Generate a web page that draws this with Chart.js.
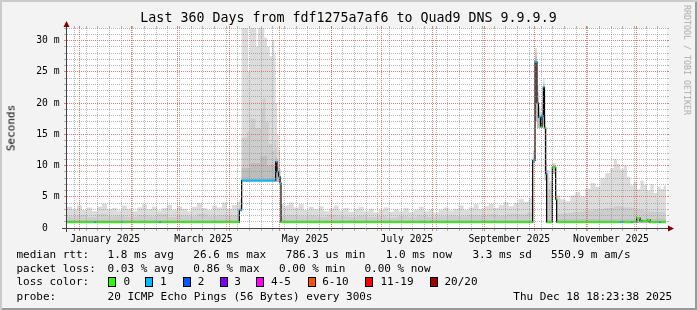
<!DOCTYPE html>
<html lang="en">
<head>
<meta charset="UTF-8">
<title>Last 360 Days from fdf1275a7af6 to Quad9 DNS 9.9.9.9</title>
<script src="https://cdn.jsdelivr.net/npm/chart.js@4"></script>
<style>
* { margin: 0; padding: 0; box-sizing: border-box; }
body { background: #f3f3f3; width: 697px; height: 310px; overflow: hidden; }
#wrap { position: relative; width: 697px; height: 310px; background: #f3f3f3; font-family: 'DejaVu Sans Mono', monospace; color: #000; }
#wrap canvas { position: absolute; left: 0; top: 0; }
.t { position: absolute; white-space: pre; line-height: 1; }
.leg { font-size: 11px; }
.box { position: absolute; width: 8px; height: 10px; border: 1px solid #000; }
#shade { position: absolute; left: 0; top: 0; width: 697px; height: 310px; box-shadow: inset 2px 2px 0 #cbcbcb, inset -2px -2px 0 #999; pointer-events: none; }
</style>
</head>
<body>
<div id="wrap">
  <canvas id="c" width="697" height="310"></canvas>
  <div class="t" style="left:0;width:697px;top:11px;text-align:center;font-size:13.3px">Last 360 Days from fdf1275a7af6 to Quad9 DNS 9.9.9.9</div>
  <div class="t" style="left:10.5px;top:128.3px;font-size:11px;transform:translate(-50%,-50%) rotate(-90deg)">Seconds</div>
  <div class="t" style="left:687.3px;top:60px;font-size:8.3px;color:#aaa;transform:translate(-50%,-50%) rotate(90deg)">RRDTOOL / TOBI OETIKER</div>

  <div class="t leg" style="left:16.4px;top:248.8px">median rtt:</div>
  <div class="t leg" style="left:107.6px;top:248.8px">1.8 ms avg</div>
  <div class="t leg" style="left:193.3px;top:248.8px">26.6 ms max</div>
  <div class="t leg" style="left:285.8px;top:248.8px">786.3 us min</div>
  <div class="t leg" style="left:385.8px;top:248.8px">1.0 ms now</div>
  <div class="t leg" style="left:472.4px;top:248.8px">3.3 ms sd</div>
  <div class="t leg" style="left:551.1px;top:248.8px">550.9 m am/s</div>

  <div class="t leg" style="left:16.4px;top:262.8px">packet loss:</div>
  <div class="t leg" style="left:107.6px;top:262.8px">0.03 % avg</div>
  <div class="t leg" style="left:193.3px;top:262.8px">0.86 % max</div>
  <div class="t leg" style="left:279.1px;top:262.8px">0.00 % min</div>
  <div class="t leg" style="left:364.4px;top:262.8px">0.00 % now</div>

  <div class="t leg" style="left:16.4px;top:276.2px">loss color:</div>
  <div id="lossLegend"></div>

  <div class="t leg" style="left:16.4px;top:290.5px">probe:</div>
  <div class="t leg" style="left:107.6px;top:290.5px">20 ICMP Echo Pings (56 Bytes) every 300s</div>
  <div class="t leg" style="left:513.3px;top:290.5px">Thu Dec 18 18:23:38 2025</div>
  <div id="shade"></div>
</div>
<script>
// x = days since the start of the 360 day window, y = milliseconds

// loss colour bands
const lossLabels = ['0', '1', '2', '3', '4-5', '6-10', '11-19', '20/20'];
const lossColors = ['#26ff00', '#00b8ff', '#0059ff', '#7e00ff', '#ff00ff', '#ff5500', '#ff0000', '#a10000'];

// x axis: month starts (major grid), first weekly line, label centres
const monthGridDays = [7.4, 38.4, 66.4, 97.4, 127.4, 158.4, 188.4, 219.4, 250.4, 280.4, 311.4, 341.4];
const firstWeekDay = 4.4;
const labelDays = [22.9, 81.9, 142.9, 203.9, 265.4, 326.4];
const labelText = ['January 2025', 'March 2025', 'May 2025', 'July 2025', 'September 2025', 'November 2025'];

// y axis labels
const yLabelVals = [0, 5, 10, 15, 20, 25, 30];
const yLabelText = ['0  ', '5 m', '10 m', '15 m', '20 m', '25 m', '30 m'];

// median rtt: start day of each step, value (ms), loss band index
const medDay  = [0, 16.4, 17.2, 32.4, 33.2, 55.4, 56.2, 103.4, 104.8, 125.2, 126.0, 126.9, 127.8, 128.4,
                 279.4, 280.8, 282.0, 282.9, 284.1, 285.0, 285.8, 286.5, 287.2, 287.8, 291.2, 293.2, 293.8,
                 331.8, 333.4, 338.6, 339.2, 341.8, 343.8, 344.6, 345.2, 348.6, 349.8, 355.4, 356.2];
const medVal  = [0.95, 0.95, 0.95, 0.95, 0.95, 0.95, 0.95, 2.9, 7.6, 10.6, 9.0, 8.2, 7.2, 0.95,
                 10.8, 26.6, 20.0, 17.7, 16.2, 17.9, 22.5, 16.0, 8.7, 0.95, 9.7, 4.6, 0.95,
                 0.95, 0.95, 0.95, 0.95, 1.6, 1.1, 1.1, 1.1, 1.3, 0.95, 0.95, 0.95];
const medLoss = [0, 1, 0, 1, 0, 1, 0, 1, 1, 1, 1, 1, 1, 0,
                 1, 1, 1, 1, 0, 1, 1, 0, 1, 0, 0, 0, 0,
                 1, 0, 1, 0, 0, 0, 1, 0, 0, 0, 1, 0];
const medEnd = 359.4;

// smoke: highest pings [start day, ms]
const smokeHi = [
  [0,3.4],[3,3.0],[6,3.6],[9,2.9],[12,3.3],[15,2.7],[18,3.4],[21,3.9],[24,3.0],[27,3.2],[30,2.8],[33,3.6],
  [36,3.1],[39,2.7],[42,3.3],[45,3.8],[48,3.0],[51,3.4],[54,2.8],[57,3.2],[60,3.7],[63,2.9],[66,3.5],[69,3.1],
  [72,2.7],[75,3.4],[78,4.0],[81,3.2],[84,2.9],[87,3.6],[90,3.3],[93,4.1],[96,3.1],[99,3.7],[102,4.2],
  [103.4,4.6],[104.8,33],[108.8,25],[109.8,33],[113.6,29],[114.6,33],[118.4,30.5],[120,29],[121.6,27.5],
  [123,30],[124.4,28],[125.2,20],[126,15],[127,12.5],[127.8,9.5],[128.4,3.9],
  [130,3.6],[133,4.1],[136,3.3],[139,3.8],[142,2.9],[145,3.4],[148,3.0],[151,3.5],[154,2.7],[157,3.1],
  [160,3.6],[163,2.8],[166,3.2],[169,2.6],[172,3.0],[175,3.4],[178,2.7],[181,3.1],[184,2.5],[187,2.9],
  [190,3.3],[193,2.6],[196,3.0],[199,2.7],[202,3.2],[205,2.6],[208,2.9],[211,3.4],[214,2.7],[217,3.0],
  [220,2.5],[223,2.9],[226,3.3],[229,2.8],[232,3.1],[235,3.6],[238,2.9],[241,3.3],[244,3.8],[247,3.0],
  [250,3.5],[253,3.9],[256,3.2],[259,3.7],[262,4.2],[265,3.5],[268,4.0],[271,4.6],[274,4.2],[277,4.9],
  [279.4,12.5],[280.8,28.8],[282,23],[283,19.5],[284.1,18.5],[285,20],[285.8,24],[286.5,18],[287.2,10.5],
  [288,9.3],[289.5,7.5],[291.2,10.4],[293.2,6.0],[293.8,5.2],
  [296,4.6],[299,4.3],[302,5.2],[305,5.8],[308,5.0],[311,6.3],[314,7.2],[317,6.6],[320,8.0],[323,8.8],
  [326,9.6],[328,11.0],[330,10.2],[332,9.4],[334,10.0],[336,8.2],[338,6.8],[340,7.4],[342,6.2],[344,7.6],
  [346,6.9],[348,6.0],[350,7.0],[352,5.6],[354,6.6],[356,6.2],[358,6.8],[359.4,0],[360,0]
];
// smoke: middle band
const smokeMid = [
  [0,1.9],[6,2.1],[12,1.8],[18,2.2],[24,1.9],[30,2.0],[36,1.8],[42,2.1],[48,1.9],[54,2.2],[60,1.8],
  [66,2.0],[72,1.9],[78,2.3],[84,1.9],[90,2.1],[96,2.0],
  [103.4,3.6],[104.8,14.5],[108,15.5],[110,17.5],[113,16],[116.4,19],[117.6,20.8],[119,17],[121,13.5],
  [123,12.5],[124.4,14],[125.2,12.8],[126,10.8],[127,9.5],[127.8,8.3],[128.4,2.0],
  [132,2.1],[138,1.9],[144,2.0],[150,1.8],[156,2.1],[162,1.9],[168,1.8],[174,2.0],[180,1.8],[186,1.9],
  [192,1.7],[198,1.9],[204,1.8],[210,2.0],[216,1.8],[222,1.9],[228,2.0],[234,1.9],[240,2.1],[246,2.0],
  [252,2.2],[258,2.0],[264,2.3],[270,2.2],[276,2.5],
  [279.4,11.4],[280.8,28.1],[282,21.6],[283,18.6],[284.1,17.1],[285,19],[285.8,23.3],[286.5,17],
  [287.2,9.4],[288,6.2],[291.2,10.1],[293.2,5.0],[293.8,2.3],
  [298,2.4],[304,2.6],[310,2.8],[316,3.0],[322,3.2],[328,3.5],[334,3.3],[340,2.9],[346,2.7],[352,2.6],
  [358,2.5],[359.4,0],[360,0]
];
// smoke: dense band next to the median
const smokeLo = [
  [0,1.3],[103.4,3.2],[104.8,9.6],[110,10.4],[116,11.5],[120,10.0],[125.2,11.3],[126,9.7],[127,8.8],
  [127.8,7.8],[128.4,1.3],[279.4,11.1],[280.8,27.5],[282,20.8],[283,18.2],[284.1,16.7],[285,18.5],
  [285.8,22.9],[286.5,16.5],[287.2,9.1],[288,1.3],[291.2,9.9],[293.2,4.8],[293.8,1.4],[359.4,0],[360,0]
];
// lowest pings (nothing drawn below)
const smokeMin = [
  [0,0.78],[103.4,2.6],[104.8,7.35],[128.4,0.78],[279.4,10.4],[280.8,17],[282,16],[285.8,16.5],
  [286.5,7.6],[287.8,0.78],[291.2,8.6],[293.2,3.9],[293.8,0.78],[359.4,0],[360,0]
];

const GRID = 'rgba(143,143,143,0.65)';
const MGRID = 'rgba(222,80,80,0.75)';
const NONE = 'rgba(0,0,0,0)';

// loss legend
const lossLegendX = [108, 144.9, 182.7, 219.6, 256.4, 308, 365.3, 430.2];
const lossLabelX = [123.6, 160, 197.8, 234.2, 271.1, 322.2, 380.4, 444.4];
const lg = document.getElementById('lossLegend');
lossLabels.forEach((lab, i) => {
  const b = document.createElement('div');
  b.className = 'box';
  b.style.left = lossLegendX[i] + 'px';
  b.style.top = '276.7px';
  b.style.background = lossColors[i];
  lg.appendChild(b);
  const t = document.createElement('div');
  t.className = 't leg';
  t.style.left = lossLabelX[i] + 'px';
  t.style.top = '276.2px';
  t.textContent = lab;
  lg.appendChild(t);
});

// tick objects: weekly (minor), monthly (major), label positions
const weekGridDays = [];
for (let d = firstWeekDay; d < 360; d += 7) weekGridDays.push(+d.toFixed(1));
const gridTicks = [
  ...weekGridDays.map(v => ({ value: v, kind: 'minor' })),
  ...monthGridDays.map(v => ({ value: v, kind: 'major' }))
].sort((a, b) => a.value - b.value);
const allXTicks = [
  ...gridTicks,
  ...labelDays.map((v, i) => ({ value: v, kind: 'label', lab: labelText[i] }))
].sort((a, b) => a.value - b.value);
const yTicks = [];
for (let v = 0; v <= 32; v++) yTicks.push({ value: v, kind: v % 5 === 0 ? 'major' : 'minor' });

function gridColor(ctx) {
  const t = ctx.tick;
  if (!t || t.kind === 'label') return NONE;
  return t.kind === 'major' ? MGRID : GRID;
}

const toPts = arr => arr.map(([x, y]) => ({ x, y }));
function smokeSet(arr, color, order) {
  return { data: toPts(arr), stepped: 'before', fill: 'origin', backgroundColor: color,
           borderColor: NONE, borderWidth: 0, pointRadius: 0, order };
}

const medPts = medDay.map((d, i) => ({ x: d, y: medVal[i] }));
medPts.push({ x: medEnd, y: medVal[medVal.length - 1] });
const lossPts = [];
medDay.forEach((d, i) => {
  const next = i + 1 < medDay.length ? medDay[i + 1] : medEnd;
  lossPts.push({ x: d, y: medVal[i] }, { x: next, y: medVal[i] }, { x: next, y: null });
});

const plotBack = {
  id: 'plotBack',
  beforeDraw(chart) {
    const { ctx, chartArea: a } = chart;
    ctx.save();
    ctx.fillStyle = '#ffffff';
    ctx.fillRect(a.left, a.top, a.right - a.left, a.bottom - a.top);
    ctx.restore();
  },
  // horizontal dotted grid over the smoke, one dot every other pixel, at the y scale's ticks
  afterDatasetsDraw(chart) {
    const { ctx, chartArea: a } = chart;
    const ys = chart.scales.y;
    ctx.save();
    ys.ticks.forEach(t => {
      if (t.value === 0) return;
      const py = Math.floor(ys.getPixelForValue(t.value));
      ctx.fillStyle = t.kind === 'major' ? MGRID : GRID;
      for (let px = Math.ceil(a.left); px < a.right; px += 2) ctx.fillRect(px, py, 1, 1);
    });
    ctx.restore();
  },
  afterDraw(chart) {
    const { ctx, chartArea: a } = chart;
    ctx.save();
    ctx.strokeStyle = '#404040';
    ctx.lineWidth = 1;
    ctx.beginPath();
    ctx.moveTo(a.left - 5, a.bottom + 0.5);
    ctx.lineTo(a.right + 2, a.bottom + 0.5);
    ctx.moveTo(a.left - 0.5, a.bottom + 4);
    ctx.lineTo(a.left - 0.5, a.top - 2);
    ctx.stroke();
    ctx.fillStyle = '#7f0000';
    ctx.beginPath();
    ctx.moveTo(a.right + 7, a.bottom + 0.5);
    ctx.lineTo(a.right + 1, a.bottom - 2.5);
    ctx.lineTo(a.right + 1, a.bottom + 3.5);
    ctx.closePath();
    ctx.fill();
    ctx.beginPath();
    ctx.moveTo(a.left - 0.5, a.top - 7);
    ctx.lineTo(a.left - 3.5, a.top - 1);
    ctx.lineTo(a.left + 2.5, a.top - 1);
    ctx.closePath();
    ctx.fill();
    ctx.restore();
  }
};

Chart.defaults.font.family = "'DejaVu Sans Mono', monospace";

new Chart(document.getElementById('c'), {
  type: 'line',
  data: {
    datasets: [
      smokeSet(smokeHi, '#dcdcdc', 6),
      smokeSet(smokeMid, '#cdcdcd', 5),
      smokeSet(smokeLo, '#bdbdbd', 4),
      smokeSet(smokeMin, '#ffffff', 3),
      { data: medPts, stepped: 'before', fill: false, borderColor: '#000', borderWidth: 1.2, pointRadius: 0, order: 2 },
      { data: lossPts, fill: false, borderWidth: 2, borderColor: lossColors[0], pointRadius: 0, order: 1,
        spanGaps: false, borderCapStyle: 'butt',
        segment: { borderColor: c => lossColors[medLoss[Math.floor(c.p0DataIndex / 3)]] } }
    ]
  },
  options: {
    responsive: false,
    animation: false,
    devicePixelRatio: 1,
    layout: { padding: { left: 0, top: 26, right: 28, bottom: 0 } },
    plugins: { legend: { display: false }, tooltip: { enabled: false }, title: { display: false } },
    scales: {
      x: {
        type: 'linear', min: 0, max: 360, position: 'bottom',
        afterBuildTicks: s => { s.ticks = allXTicks.map(t => ({ ...t })); },
        afterFit: s => { s.height = 82; },
        grid: { color: gridColor, tickColor: gridColor, tickLength: 3, lineWidth: 1, z: 1 },
        border: { display: false, dash: [1, 1] },
        ticks: {
          autoSkip: false, maxRotation: 0, minRotation: 0, padding: 3, color: '#000', font: { size: 9.7 },
          callback: (v, i, ticks) => ticks[i].lab || ''
        }
      },
      xTop: {
        type: 'linear', min: 0, max: 360, position: 'top',
        afterBuildTicks: s => { s.ticks = gridTicks.map(t => ({ ...t })); },
        afterFit: s => { s.height = 2; },
        grid: { drawOnChartArea: false, tickColor: gridColor, tickLength: 2 },
        border: { display: false },
        ticks: { display: false }
      },
      y: {
        type: 'linear', min: 0, max: 32, position: 'left',
        afterBuildTicks: s => { s.ticks = yTicks.map(t => ({ ...t })); },
        afterFit: s => { s.width = 67; },
        grid: { drawOnChartArea: false, tickColor: gridColor, tickLength: 3 },
        border: { display: false },
        ticks: {
          autoSkip: false, padding: 4.5, color: '#000', font: { size: 9.7 },
          callback: v => { const i = yLabelVals.indexOf(v); return i < 0 ? '' : yLabelText[i]; }
        }
      },
      yRight: {
        type: 'linear', min: 0, max: 32, position: 'right',
        afterBuildTicks: s => { s.ticks = yTicks.map(t => ({ ...t })); },
        afterFit: s => { s.width = 2; },
        grid: { drawOnChartArea: false, tickColor: gridColor, tickLength: 2 },
        border: { display: false },
        ticks: { display: false }
      }
    }
  },
  plugins: [plotBack]
});
</script>
</body>
</html>
